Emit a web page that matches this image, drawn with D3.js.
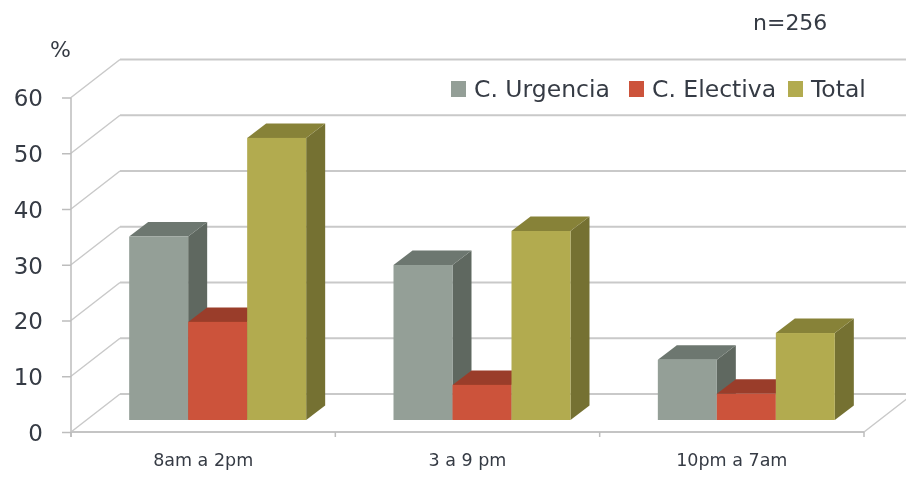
<!DOCTYPE html>
<html>
<head>
<meta charset="utf-8">
<script src="https://cdn.jsdelivr.net/npm/d3@7"></script>
<style>
  html, body { margin: 0; padding: 0; background: #fff; }
  svg { display: block; }
  text { font-family: "DejaVu Sans", sans-serif; fill: #363b44; }
</style>
</head>
<body>
<svg></svg>
<script>
// values
var categories = ["8am a 2pm", "3 a 9 pm", "10pm a 7am"];
var seriesNames = ["C. Urgencia", "C. Electiva", "Total"];
var urgencia = [32.9, 27.8, 10.8];
var electiva = [17.6, 6.3, 4.7];
var total = [50.6, 33.9, 15.6];
var yTicks = [0, 10, 20, 30, 40, 50, 60];

var seriesValues = [urgencia, electiva, total];
var faceColors = ["#949f97", "#cc523a", "#b2ab50"];
var topColors = ["#6d776f", "#9a3e2b", "#878239"];
var sideColors = ["#5f6860", "#8c3826", "#757132"];
var gridColor = "#c9c9c9";

var width = 906, height = 477;

// the fake 3d box: wall is pushed back by depth, bars sit half way on the floor
var wallDx = 49, wallDy = -38;
var barDx = 19, barDy = -14.5;
var barShiftX = 14.5, barLift = 12;

var svg = d3.select("svg")
    .attr("width", width)
    .attr("height", height);

// source is a blurry screenshot, soften it a bit
var defs = svg.append("defs");
defs.append("filter")
    .attr("id", "soft")
    .attr("x", "-5%").attr("y", "-5%").attr("width", "110%").attr("height", "110%")
  .append("feGaussianBlur")
    .attr("stdDeviation", 0.75);

var root = svg.append("g").attr("filter", "url(#soft)");

var x = d3.scaleBand().domain(categories).range([71, 864]);
var y = d3.scaleLinear().domain([0, 60]).range([432, 97.5]);
var xBar = d3.scaleBand().domain(d3.range(seriesNames.length)).range([0, 177]);

// back wall lines and the diagonals going to them
var grid = root.append("g");
grid.selectAll(".back")
    .data(yTicks)
  .enter().append("line")
    .attr("class", "back")
    .attr("x1", 71 + wallDx)
    .attr("x2", 864 + wallDx)
    .attr("y1", function(d) { return y(d) + wallDy; })
    .attr("y2", function(d) { return y(d) + wallDy; })
    .attr("stroke", gridColor)
    .attr("stroke-width", 2);

grid.selectAll(".diag")
    .data(yTicks)
  .enter().append("line")
    .attr("class", "diag")
    .attr("x1", 71)
    .attr("x2", 71 + wallDx)
    .attr("y1", function(d) { return y(d); })
    .attr("y2", function(d) { return y(d) + wallDy; })
    .attr("stroke", gridColor)
    .attr("stroke-width", 1.5);

// right edge of the floor
grid.append("line")
    .attr("x1", 864).attr("y1", y(0))
    .attr("x2", 864 + wallDx).attr("y2", y(0) + wallDy)
    .attr("stroke", gridColor)
    .attr("stroke-width", 1.5);

// y axis
var yAxis = root.append("g")
    .attr("transform", "translate(71,0)")
    .call(d3.axisLeft(y).tickValues(yTicks).tickSize(9).tickPadding(19));
yAxis.selectAll("path").attr("d", "M0," + y(60) + "V" + (y(0) + 5)).attr("stroke", "#bdbdbd").attr("stroke-width", 1.5);
yAxis.selectAll("line").attr("stroke", "#bdbdbd").attr("stroke-width", 1.5);
yAxis.selectAll("text")
    .style("font-family", '"DejaVu Sans", sans-serif')
    .style("font-size", "23px")
    .attr("dy", "0.36em");

// x axis, ticks sit between the groups so they are drawn apart
var xAxis = root.append("g")
    .attr("transform", "translate(0," + y(0) + ")")
    .call(d3.axisBottom(x).tickSize(0).tickPadding(22));
xAxis.selectAll("path").attr("d", "M71,0H864").attr("stroke", "#c4c4c4").attr("stroke-width", 2);
xAxis.selectAll("text")
    .style("font-family", '"DejaVu Sans", sans-serif')
    .style("font-size", "17.5px");

xAxis.selectAll(".sep")
    .data(categories.concat(["end"]))
  .enter().append("line")
    .attr("class", "sep")
    .attr("x1", function(d, i) { return 71 + i * x.bandwidth(); })
    .attr("x2", function(d, i) { return 71 + i * x.bandwidth(); })
    .attr("y1", 0)
    .attr("y2", 5)
    .attr("stroke", "#bdbdbd")
    .attr("stroke-width", 1.5);

// bars
function barLeft(c, s) { return x(c) + (x.bandwidth() - xBar.range()[1]) / 2 + barShiftX + xBar(s); }
function barTop(v) { return y(v) - barLift; }

categories.forEach(function(c, ci) {
  seriesNames.forEach(function(name, si) {
    var v = seriesValues[si][ci];
    var x0 = barLeft(c, si),
        x1 = x0 + xBar.bandwidth(),
        yt = barTop(v),
        yb = barTop(0);
    var g = root.append("g");

    g.append("path")
        .attr("d", d3.line()([[x1, yt], [x1 + barDx, yt + barDy], [x1 + barDx, yb + barDy], [x1, yb]]))
        .attr("fill", sideColors[si]);
    g.append("path")
        .attr("d", d3.line()([[x0, yt], [x0 + barDx, yt + barDy], [x1 + barDx, yt + barDy], [x1, yt]]))
        .attr("fill", topColors[si]);
    g.append("rect")
        .attr("x", x0)
        .attr("y", yt)
        .attr("width", xBar.bandwidth())
        .attr("height", yb - yt)
        .attr("fill", faceColors[si]);
  });
});

// legend
var legendX = [451, 629, 788];
var legend = root.selectAll(".legend")
    .data(seriesNames)
  .enter().append("g")
    .attr("class", "legend")
    .attr("transform", function(d, i) { return "translate(" + legendX[i] + ",81)"; });
legend.append("rect")
    .attr("width", 15)
    .attr("height", 16)
    .attr("fill", function(d, i) { return faceColors[i]; });
legend.append("text")
    .attr("x", 23)
    .attr("y", 16)
    .attr("font-size", "23.5px")
    .text(function(d) { return d; });

root.append("text")
    .attr("x", 50).attr("y", 57)
    .attr("font-size", "22px")
    .text("%");

root.append("text")
    .attr("x", 753).attr("y", 30)
    .attr("font-size", "22px")
    .text("n=256");
</script>
</body>
</html>
